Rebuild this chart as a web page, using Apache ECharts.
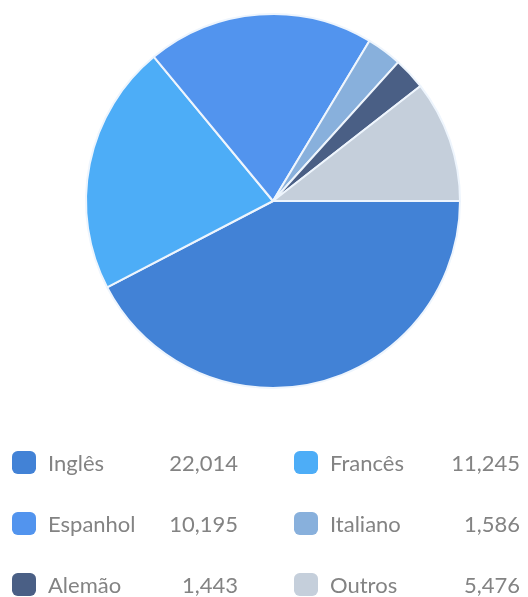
<!DOCTYPE html>
<html>
<head>
<meta charset="utf-8">
<script src="https://cdn.jsdelivr.net/npm/echarts@6/dist/echarts.min.js"></script>
<style>
  html, body { margin: 0; padding: 0; background: #ffffff; }
  #chart { width: 528px; height: 597px; }
</style>
</head>
<body>
<div id="chart"></div>
<script>
// Speakers by language
const languages = ['Inglês', 'Francês', 'Espanhol', 'Italiano', 'Alemão', 'Outros'];
const speakers = [22014, 11245, 10195, 1586, 1443, 5476];
const sliceColors = ['#4282d6', '#4dadf7', '#5294ee', '#88b0dc', '#4a5f85', '#c5cfdb'];

// Legend rows, two entries per row
const legendRows = [
  ['Inglês', 'Francês'],
  ['Espanhol', 'Italiano'],
  ['Alemão', 'Outros']
];
const rowTops = [450, 511, 572];

const valueOf = {};
languages.forEach((l, i) => { valueOf[l] = speakers[i]; });
const fmt = v => v.toLocaleString('en-US');

function legendRow(names, top) {
  const base = { fontFamily: 'Lato', fontSize: 22, color: '#838383', lineHeight: 23 };
  return {
    orient: 'horizontal',
    left: 12,
    top: top,
    padding: 0,
    data: names,
    icon: 'roundRect',
    itemWidth: 24,
    itemHeight: 23,
    itemGap: 56,
    selectedMode: false,
    itemStyle: { borderWidth: 0 },
    formatter: name => '{n|' + name + '}{v|' + fmt(valueOf[name]) + '}',
    textStyle: Object.assign({}, base, {
      padding: [2, 0, 0, 7],
      rich: {
        n: Object.assign({ width: 100 }, base),
        v: Object.assign({ width: 90, align: 'right' }, base)
      }
    })
  };
}

const chart = echarts.init(document.getElementById('chart'), null, { renderer: 'canvas' });
chart.setOption({
  animation: false,
  color: sliceColors,
  legend: legendRows.map((r, i) => legendRow(r, rowTops[i])),
  series: [{
    type: 'pie',
    center: [273, 201],
    radius: [0, 187],
    startAngle: 0,
    clockwise: true,
    silent: true,
    label: { show: false },
    labelLine: { show: false },
    itemStyle: { borderColor: '#eef5fd', borderWidth: 2 },
    data: languages.map((l, i) => ({ name: l, value: speakers[i] }))
  }]
});
</script>
</body>
</html>
